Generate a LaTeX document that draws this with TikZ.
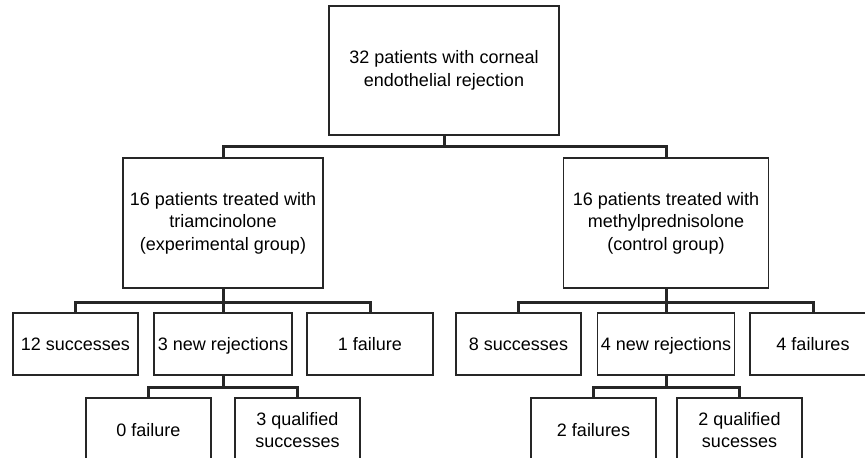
\documentclass[tikz,border=0pt]{standalone}
\usepackage{fontspec}
\setmainfont{Liberation Sans}
\begin{document}
\begin{tikzpicture}[x=0.5pt,y=-0.5pt,
	box/.style={draw=black!85,line width=0.7pt,align=center,inner sep=1pt,font=\fontsize{9}{11.2}\selectfont},
	single/.style={text height=1.6ex,text depth=.4ex},
	link/.style={draw=black!85,line width=1.5pt}]
		\path[use as bounding box] (0,0) rectangle (865,457);
		\clip (0,0) rectangle (865,457);
		\node[box,minimum width=115pt,minimum height=64.5pt] (all) at (444,70.5) {32 patients with corneal\\endothelial rejection};
		
		\node[box,minimum width=100pt,minimum height=65pt] (tria) at (223,223) {16 patients treated with\\triamcinolone\\(experimental group)};
		\node[box,minimum width=102.5pt,minimum height=65pt] (methyl) at (666,223) {16 patients treated with\\methylprednisolone\\(control group)};
		
		\node[box,single,minimum width=62.5pt,minimum height=31pt] (tsucc) at (75.5,344) {12 successes};
		\node[box,single,minimum width=69pt,minimum height=31pt] (trej) at (223,344) {3 new rejections};
		\node[box,single,minimum width=63pt,minimum height=31pt] (tfail) at (370,344) {1 failure};
		\node[box,single,minimum width=62.5pt,minimum height=31pt] (msucc) at (518.5,344) {8 successes};
		\node[box,single,minimum width=68.5pt,minimum height=31pt] (mrej) at (666,344) {4 new rejections};
		\node[box,single,minimum width=63pt,minimum height=31pt] (mfail) at (813,344) {4 failures};
		
		\node[box,single,minimum width=62.5pt,minimum height=32pt] (tzero) at (148.5,430) {0 failure};
		\node[box,minimum width=62.5pt,minimum height=32pt] (tqual) at (297.5,430) {3 qualified\\successes};
		\node[box,single,minimum width=62.5pt,minimum height=32pt] (mtwo) at (593.5,430) {2 failures};
		\node[box,minimum width=62.5pt,minimum height=32pt] (mqual) at (739.5,430) {2 qualified\\sucesses};
		
		\draw[link] (all.south) -- ++(0,11) -| (tria.north);
		\draw[link] (all.south) -- ++(0,11) -| (methyl.north);
		
		\draw[link] (tria.south) -- ++(0,14) -| (tsucc.north);
		\draw[link] (tria.south) -- ++(0,14) -| (tfail.north);
		\draw[link] (tria.south) -- (trej.north);
		\draw[link] (methyl.south) -- ++(0,14) -| (msucc.north);
		\draw[link] (methyl.south) -- ++(0,14) -| (mfail.north);
		\draw[link] (methyl.south) -- (mrej.north);
		
		\draw[link] (trej.south) -- ++(0,12) -| (tzero.north);
		\draw[link] (trej.south) -- ++(0,12) -| (tqual.north);
		\draw[link] (mrej.south) -- ++(0,12) -| (mtwo.north);
		\draw[link] (mrej.south) -- ++(0,12) -| (mqual.north);
\end{tikzpicture}
\end{document}
